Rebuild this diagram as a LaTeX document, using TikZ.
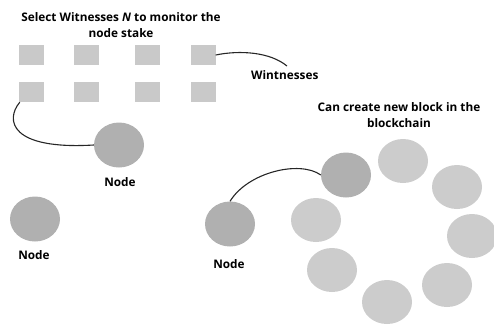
\documentclass[tikz,border=0pt]{standalone}
\usepackage{fontspec}
\setmainfont{Open Sans}
\usetikzlibrary{shapes.geometric}
\begin{document}
\begin{tikzpicture}[x=1pt,y=-1pt,
  witness/.style={fill=gray!42,draw=none,minimum width=25pt,minimum height=20pt,inner sep=0pt},
  stakenode/.style={ellipse,fill=gray!62,draw=none,minimum width=50pt,minimum height=45pt,inner sep=0pt},
  ringnode/.style={ellipse,fill=gray!40,draw=none,minimum width=50pt,minimum height=44pt,inner sep=0pt},
  lbl/.style={font=\bfseries\fontsize{11.8}{15.5}\selectfont,inner sep=0pt,align=center},
  link/.style={draw=black!85,line width=1.1pt}]
\useasboundingbox (0,0) rectangle (494,325);

% title over the witness grid
\node[lbl] (title) at (121,25) {Select Witnesses \textit{N} to monitor the\\node stake};

% witness squares, two rows of four
\foreach \c/\x in {1/31.5,2/86.5,3/147.5,4/203} {
  \node[witness] (wa\c) at (\x,55) {};
  \node[witness] (wb\c) at (\x,92) {};
}
\node[lbl,anchor=west] (wlabel) at (251,75) {Wintnesses};
\draw[link] (wa4.east) .. controls (240,50) and (270,52) .. (287,66);

% stake nodes on the left
\node[stakenode] (n1) at (119,145) {};
\node[lbl] (n1l) at (120,182) {Node};
\node[stakenode] (n2) at (35,219) {};
\node[lbl] (n2l) at (34,255) {Node};
\draw[link] ([xshift=1pt]wb1.south west) .. controls (5,120) and (10,150) .. (n1.west);

% ring of validators
\node[lbl] (ctitle) at (399,115) {Can create new block in the\\blockchain};
\node[ringnode] (r1) at (403,161) {};
\node[ringnode] (r2) at (457,187) {};
\node[ringnode] (r3) at (472,236) {};
\node[ringnode] (r4) at (447,285) {};
\node[ringnode] (r5) at (387,302) {};
\node[ringnode] (r6) at (332,270) {};
\node[ringnode] (r7) at (316,220) {};
\node[stakenode] (r0) at (346,175) {};

\node[stakenode] (n3) at (230,224) {};
\node[lbl] (n3l) at (229,264) {Node};
\draw[link] (n3.north) .. controls (248,172) and (300,160) .. (r0.west);
\end{tikzpicture}
\end{document}
